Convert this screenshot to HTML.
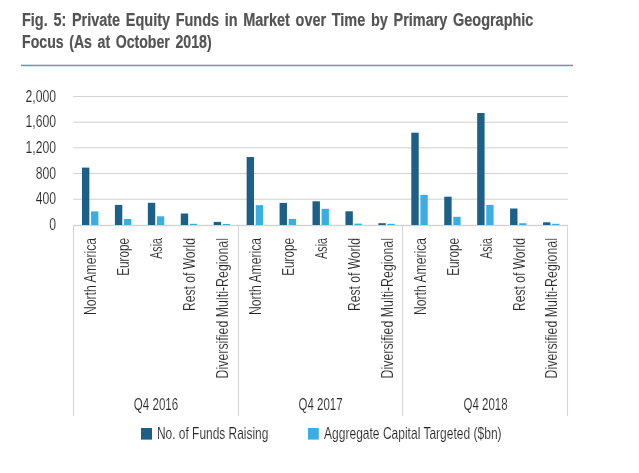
<!DOCTYPE html>
<html><head><meta charset="utf-8"><style>
html,body{margin:0;padding:0;background:#fff;}
body{width:639px;height:473px;overflow:hidden;}
svg{display:block;will-change:transform;}
text.l{stroke:#fff;stroke-width:0.15px;}
text.t{stroke:#545454;stroke-width:0.2px;word-spacing:2px;}
svg{font-family:"Liberation Sans", sans-serif;}
</style></head><body>
<svg width="639" height="473" viewBox="0 0 639 473">
<rect width="639" height="473" fill="#fff"/>
<rect x="73.3" y="95.95" width="494.7" height="1.1" fill="#d4d4d4"/>
<rect x="73.3" y="121.65" width="494.7" height="1.1" fill="#d4d4d4"/>
<rect x="73.3" y="147.25" width="494.7" height="1.1" fill="#d4d4d4"/>
<rect x="73.3" y="172.95" width="494.7" height="1.1" fill="#d4d4d4"/>
<rect x="73.3" y="198.65" width="494.7" height="1.1" fill="#d4d4d4"/>
<rect x="74.0" y="224.8" width="494.0" height="1.4" fill="#d2d2d2"/>
<rect x="72.95" y="225" width="1.1" height="191" fill="#d6d6d6"/>
<rect x="237.95" y="225" width="1.1" height="191" fill="#d6d6d6"/>
<rect x="401.95" y="225" width="1.1" height="191" fill="#d6d6d6"/>
<rect x="566.95" y="225" width="1.1" height="191" fill="#d6d6d6"/>
<rect x="81.97" y="167.60" width="7.4" height="57.40" fill="#1c5f87"/>
<rect x="91.07" y="211.40" width="7.3" height="13.60" fill="#3aaee0"/>
<rect x="114.90" y="204.90" width="7.4" height="20.10" fill="#1c5f87"/>
<rect x="124.00" y="219.00" width="7.3" height="6.00" fill="#3aaee0"/>
<rect x="147.83" y="202.80" width="7.4" height="22.20" fill="#1c5f87"/>
<rect x="156.93" y="216.30" width="7.3" height="8.70" fill="#3aaee0"/>
<rect x="180.77" y="213.50" width="7.4" height="11.50" fill="#1c5f87"/>
<rect x="189.87" y="223.80" width="7.3" height="1.20" fill="#3aaee0"/>
<rect x="213.70" y="221.90" width="7.4" height="3.10" fill="#1c5f87"/>
<rect x="222.80" y="224.00" width="7.3" height="1.00" fill="#3aaee0"/>
<rect x="246.63" y="157.05" width="7.4" height="67.95" fill="#1c5f87"/>
<rect x="255.73" y="205.10" width="7.3" height="19.90" fill="#3aaee0"/>
<rect x="279.57" y="202.90" width="7.4" height="22.10" fill="#1c5f87"/>
<rect x="288.67" y="218.90" width="7.3" height="6.10" fill="#3aaee0"/>
<rect x="312.50" y="201.30" width="7.4" height="23.70" fill="#1c5f87"/>
<rect x="321.60" y="208.80" width="7.3" height="16.20" fill="#3aaee0"/>
<rect x="345.43" y="211.30" width="7.4" height="13.70" fill="#1c5f87"/>
<rect x="354.53" y="223.60" width="7.3" height="1.40" fill="#3aaee0"/>
<rect x="378.37" y="223.20" width="7.4" height="1.80" fill="#1c5f87"/>
<rect x="387.47" y="223.80" width="7.3" height="1.20" fill="#3aaee0"/>
<rect x="411.30" y="132.70" width="7.4" height="92.30" fill="#1c5f87"/>
<rect x="420.40" y="194.80" width="7.3" height="30.20" fill="#3aaee0"/>
<rect x="444.23" y="196.70" width="7.4" height="28.30" fill="#1c5f87"/>
<rect x="453.33" y="216.80" width="7.3" height="8.20" fill="#3aaee0"/>
<rect x="477.17" y="113.00" width="7.4" height="112.00" fill="#1c5f87"/>
<rect x="486.27" y="204.90" width="7.3" height="20.10" fill="#3aaee0"/>
<rect x="510.10" y="208.50" width="7.4" height="16.50" fill="#1c5f87"/>
<rect x="519.20" y="223.20" width="7.3" height="1.80" fill="#3aaee0"/>
<rect x="543.03" y="222.30" width="7.4" height="2.70" fill="#1c5f87"/>
<rect x="552.13" y="223.80" width="7.3" height="1.20" fill="#3aaee0"/>
<text class="l" x="56" y="101.60" text-anchor="end" font-size="16.5" fill="#262626" transform="translate(56 0) scale(0.74 1) translate(-56 0)">2,000</text>
<text class="l" x="56" y="127.30" text-anchor="end" font-size="16.5" fill="#262626" transform="translate(56 0) scale(0.74 1) translate(-56 0)">1,600</text>
<text class="l" x="56" y="152.90" text-anchor="end" font-size="16.5" fill="#262626" transform="translate(56 0) scale(0.74 1) translate(-56 0)">1,200</text>
<text class="l" x="56" y="178.60" text-anchor="end" font-size="16.5" fill="#262626" transform="translate(56 0) scale(0.74 1) translate(-56 0)">800</text>
<text class="l" x="56" y="204.30" text-anchor="end" font-size="16.5" fill="#262626" transform="translate(56 0) scale(0.74 1) translate(-56 0)">400</text>
<text class="l" x="56" y="230.10" text-anchor="end" font-size="16.5" fill="#262626" transform="translate(56 0) scale(0.74 1) translate(-56 0)">0</text>
<text class="l" x="0" y="0" font-size="16" fill="#262626" textLength="77" lengthAdjust="spacingAndGlyphs" text-anchor="start" transform="translate(96.37 315.00) rotate(-90)">North America</text>
<text class="l" x="0" y="0" font-size="16" fill="#262626" textLength="37.7" lengthAdjust="spacingAndGlyphs" text-anchor="start" transform="translate(129.30 275.70) rotate(-90)">Europe</text>
<text class="l" x="0" y="0" font-size="16" fill="#262626" textLength="20.8" lengthAdjust="spacingAndGlyphs" text-anchor="start" transform="translate(162.23 258.80) rotate(-90)">Asia</text>
<text class="l" x="0" y="0" font-size="16" fill="#262626" textLength="73" lengthAdjust="spacingAndGlyphs" text-anchor="start" transform="translate(195.17 311.00) rotate(-90)">Rest of World</text>
<text class="l" x="0" y="0" font-size="16" fill="#262626" textLength="140.5" lengthAdjust="spacingAndGlyphs" text-anchor="start" transform="translate(228.10 378.50) rotate(-90)">Diversified Multi-Regional</text>
<text class="l" x="0" y="0" font-size="16" fill="#262626" textLength="77" lengthAdjust="spacingAndGlyphs" text-anchor="start" transform="translate(261.03 315.00) rotate(-90)">North America</text>
<text class="l" x="0" y="0" font-size="16" fill="#262626" textLength="37.7" lengthAdjust="spacingAndGlyphs" text-anchor="start" transform="translate(293.97 275.70) rotate(-90)">Europe</text>
<text class="l" x="0" y="0" font-size="16" fill="#262626" textLength="20.8" lengthAdjust="spacingAndGlyphs" text-anchor="start" transform="translate(326.90 258.80) rotate(-90)">Asia</text>
<text class="l" x="0" y="0" font-size="16" fill="#262626" textLength="73" lengthAdjust="spacingAndGlyphs" text-anchor="start" transform="translate(359.83 311.00) rotate(-90)">Rest of World</text>
<text class="l" x="0" y="0" font-size="16" fill="#262626" textLength="140.5" lengthAdjust="spacingAndGlyphs" text-anchor="start" transform="translate(392.77 378.50) rotate(-90)">Diversified Multi-Regional</text>
<text class="l" x="0" y="0" font-size="16" fill="#262626" textLength="77" lengthAdjust="spacingAndGlyphs" text-anchor="start" transform="translate(425.70 315.00) rotate(-90)">North America</text>
<text class="l" x="0" y="0" font-size="16" fill="#262626" textLength="37.7" lengthAdjust="spacingAndGlyphs" text-anchor="start" transform="translate(458.63 275.70) rotate(-90)">Europe</text>
<text class="l" x="0" y="0" font-size="16" fill="#262626" textLength="20.8" lengthAdjust="spacingAndGlyphs" text-anchor="start" transform="translate(491.57 258.80) rotate(-90)">Asia</text>
<text class="l" x="0" y="0" font-size="16" fill="#262626" textLength="73" lengthAdjust="spacingAndGlyphs" text-anchor="start" transform="translate(524.50 311.00) rotate(-90)">Rest of World</text>
<text class="l" x="0" y="0" font-size="16" fill="#262626" textLength="140.5" lengthAdjust="spacingAndGlyphs" text-anchor="start" transform="translate(557.43 378.50) rotate(-90)">Diversified Multi-Regional</text>
<text class="l" x="133.8" y="410" font-size="16.5" fill="#262626" textLength="44.4" lengthAdjust="spacingAndGlyphs">Q4 2016</text>
<text class="l" x="298.5" y="410" font-size="16.5" fill="#262626" textLength="44.1" lengthAdjust="spacingAndGlyphs">Q4 2017</text>
<text class="l" x="463.5" y="410" font-size="16.5" fill="#262626" textLength="44.1" lengthAdjust="spacingAndGlyphs">Q4 2018</text>
<rect x="141" y="428" width="11" height="11.6" fill="#1c5f87"/>
<text class="l" x="157" y="438.8" font-size="16.5" fill="#262626" textLength="111.3" lengthAdjust="spacingAndGlyphs">No. of Funds Raising</text>
<rect x="308" y="428" width="10.8" height="11.6" fill="#3aaee0"/>
<text class="l" x="324.1" y="438.8" font-size="16.5" fill="#262626" textLength="177.5" lengthAdjust="spacingAndGlyphs">Aggregate Capital Targeted ($bn)</text>
<text x="22" y="25.5" class="t" font-size="17.5" font-weight="bold" fill="#545454" textLength="511.4" lengthAdjust="spacingAndGlyphs">Fig. 5: Private Equity Funds in Market over Time by Primary Geographic</text>
<text x="22" y="47.5" class="t" font-size="17.5" font-weight="bold" fill="#545454" textLength="189.6" lengthAdjust="spacingAndGlyphs">Focus (As at October 2018)</text>
<rect x="21" y="64.7" width="552" height="1.5" fill="#6a979d"/>
</svg>
</body></html>
